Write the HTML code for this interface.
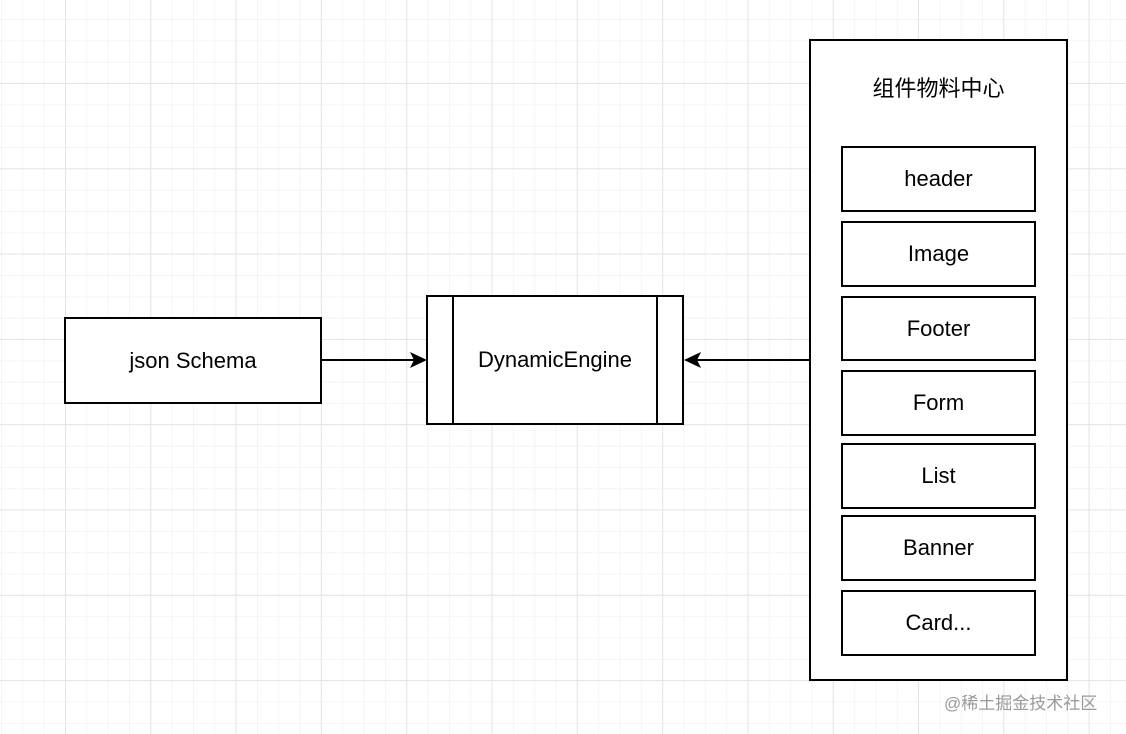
<!DOCTYPE html>
<html><head><meta charset="utf-8"><style>
html,body{margin:0;padding:0}
body{width:1126px;height:734px;overflow:hidden;background:#fff;position:relative;
background-image:
linear-gradient(#e4e4e4 1px,transparent 1px),
linear-gradient(90deg,#e4e4e4 1px,transparent 1px),
linear-gradient(#f4f4f4 1px,transparent 1px),
linear-gradient(90deg,#f4f4f4 1px,transparent 1px);
background-size:85.3px 85.3px,85.3px 85.3px,21.33px 21.33px,21.33px 21.33px;
background-position:0 83px,65px 0,0 83px,65px 0;
font-family:"Liberation Sans","Noto Sans CJK SC",sans-serif;}
.b{position:absolute;box-sizing:border-box;border:2px solid #000;background:#fff;display:flex;align-items:center;justify-content:center;font-size:22px;color:#000}
.wm{position:absolute;left:944px;top:689px;font-size:17px;color:#9a9a9a}
</style></head><body>
<div class="b" style="left:64px;top:317px;width:258px;height:87px">json Schema</div>
<div class="b" style="left:426px;top:295px;width:258px;height:130px">DynamicEngine</div>
<div style="position:absolute;left:452px;top:296px;width:2px;height:128px;background:#000"></div>
<div style="position:absolute;left:656px;top:296px;width:2px;height:128px;background:#000"></div>
<div class="b" style="left:809px;top:39px;width:259px;height:642px;align-items:flex-start;padding-top:30px">组件物料中心</div>
<div class="b" style="left:841px;top:146px;width:195px;height:66px">header</div>
<div class="b" style="left:841px;top:221px;width:195px;height:66px">Image</div>
<div class="b" style="left:841px;top:296px;width:195px;height:65px">Footer</div>
<div class="b" style="left:841px;top:370px;width:195px;height:66px">Form</div>
<div class="b" style="left:841px;top:443px;width:195px;height:66px">List</div>
<div class="b" style="left:841px;top:515px;width:195px;height:66px">Banner</div>
<div class="b" style="left:841px;top:590px;width:195px;height:66px">Card...</div>
<svg style="position:absolute;left:0;top:0" width="1126" height="734">
<line x1="322" y1="360" x2="418" y2="360" stroke="#000" stroke-width="2"/>
<polygon points="427,360 410,352 414,360 410,368" fill="#000"/>
<line x1="692" y1="360" x2="810" y2="360" stroke="#000" stroke-width="2"/>
<polygon points="684,360 701,352 697,360 701,368" fill="#000"/>
</svg>
<div class="wm">@稀土掘金技术社区</div>
</body></html>
